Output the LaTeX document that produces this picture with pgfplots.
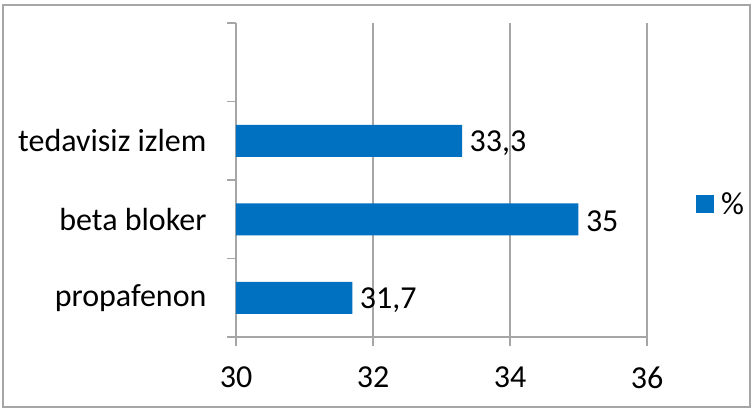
\documentclass[border=0pt]{standalone}
\usepackage{pgfplots}
\pgfplotsset{compat=1.18}
\usepackage{fontspec}
\setmainfont{Carlito}
\definecolor{barblue}{HTML}{0070C0}
\definecolor{gridgray}{HTML}{A6A6A6}
\definecolor{framegray}{HTML}{A6A6A6}
\begin{document}
\begin{tikzpicture}
\useasboundingbox (-236bp,-73bp) rectangle (519bp,337bp);
\draw[framegray, line width=1.2bp] (-233bp,-70bp) rectangle (514bp,332bp);
\begin{axis}[
  at={(0,0)}, anchor=south west,
  scale only axis,
  width=411bp, height=314bp,
  xbar, bar width=32bp,
  xmin=30, xmax=36,
  ymin=-0.5, ymax=3.5,
  xtick={30,32,34,36},
  ytick={-0.5,0.5,1.5,2.5,3.5},
  yticklabels={},
  extra y ticks={0,1,2},
  extra y tick labels={propafenon,beta bloker,tedavisiz izlem},
  extra y tick style={major tick length=0pt, yticklabel style={xshift=-26bp}},
  axis x line*=bottom, axis y line*=left,
  axis line style={-, gridgray, line width=1.2bp},
  tick style={gridgray, line width=1.2bp},
  tick align=outside,
  major tick length=9bp,
  xmajorgrids, grid style={gridgray, line width=1.2bp},
  font=\fontsize{32bp}{35bp}\selectfont,
  /pgf/number format/assume math mode=true,
  /pgf/number format/use comma,
  xticklabel style={yshift=-17bp},
  nodes near coords,
  nodes near coords style={font=\fontsize{32bp}{35bp}\selectfont, xshift=4bp, yshift=-2bp, /pgf/number format/assume math mode=true, /pgf/number format/use comma},
  legend style={at={(1.112,0.424)}, anchor=west, draw=none, fill=none, font=\fontsize{32bp}{35bp}\selectfont},
  legend image code/.code={\fill[barblue] (0bp,-9bp) rectangle (18bp,9bp);},
]
\addplot[fill=barblue, draw=none] coordinates {(31.7,0) (35,1) (33.3,2)};
\addlegendentry{\hspace{5bp}\%}
\end{axis}
\end{tikzpicture}
\end{document}
